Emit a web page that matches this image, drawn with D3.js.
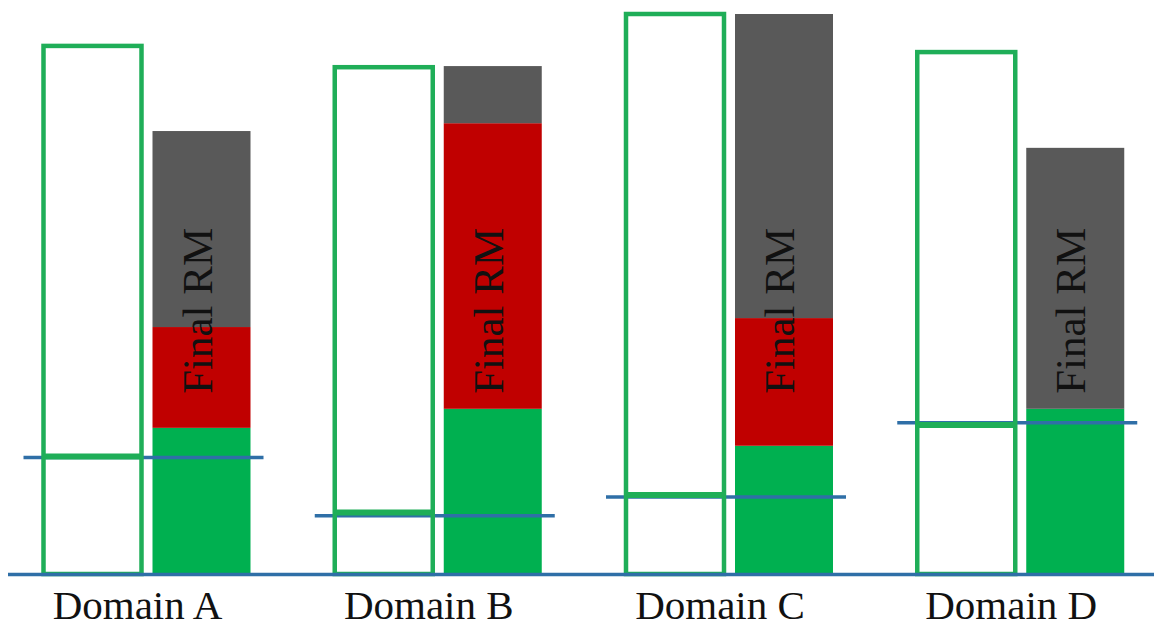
<!DOCTYPE html>
<html><head><meta charset="utf-8">
<script src="https://cdn.jsdelivr.net/npm/d3@7"></script>
<style>html,body{margin:0;padding:0;background:#fff;}svg{display:block;}</style>
</head><body>
<svg id="chart" width="1154" height="628"></svg>
<script>
// Data (arbitrary units, baseline = 0)
const domains = ["Domain A", "Domain B", "Domain C", "Domain D"];
const outlineTotals = [94.3, 90.5, 100, 93.2];
const greenSeg = [26.1, 29.5, 22.9, 29.5];
const redSeg   = [18.0, 51.0, 22.8, 0];
const graySeg  = [35.0, 10.2, 54.3, 46.6];
const thresholds = [20.8, 10.4, 13.75, 27.0];
const outlineMarks = [21.0, 11.0, 14.1, 26.6];
const barLabel = "Final RM";

const svg = d3.select("#chart");
const y = d3.scaleLinear().domain([0, 100]).range([574, 14]);
const x = d3.scaleBand().domain(domains).range([43.5, 1208.5]).paddingInner(0).paddingOuter(0);
const boxW = 98, barOff = 109;
const serif = "'Liberation Serif', 'Times New Roman', Times, serif";

const colors = {green: "#00b050", red: "#c00000", gray: "#595959", outline: "#1fae58", blue: "#2f6fa7"};

const rows = domains.map((d, i) => ({
  d, total: outlineTotals[i], g: greenSeg[i], r: redSeg[i], k: graySeg[i], t: thresholds[i], m: outlineMarks[i]
}));

const stack = d3.stack().keys(["g", "r", "k"])(rows);
const segColor = {g: colors.green, r: colors.red, k: colors.gray};

// stacked bars
svg.append("g").selectAll("g").data(stack).join("g")
  .attr("fill", s => segColor[s.key])
  .selectAll("rect").data(s => s).join("rect")
  .attr("x", p => x(p.data.d) + barOff)
  .attr("width", boxW)
  .attr("y", p => y(p[1]))
  .attr("height", p => y(p[0]) - y(p[1]));

// blue threshold lines
svg.append("g").selectAll("line").data(rows).join("line")
  .attr("x1", r => x(r.d) - 20).attr("x2", r => x(r.d) + 220)
  .attr("y1", r => y(r.t)).attr("y2", r => y(r.t))
  .attr("stroke", colors.blue).attr("stroke-width", 3.5);

// outline boxes
svg.append("g").selectAll("rect").data(rows).join("rect")
  .attr("x", r => x(r.d)).attr("width", boxW)
  .attr("y", r => y(r.total)).attr("height", r => y(0) - y(r.total))
  .attr("fill", "none").attr("stroke", colors.outline).attr("stroke-width", 4.5);

// green marks inside outline boxes
svg.append("g").selectAll("line").data(rows).join("line")
  .attr("x1", r => x(r.d)).attr("x2", r => x(r.d) + boxW)
  .attr("y1", r => y(r.m)).attr("y2", r => y(r.m))
  .attr("stroke", colors.outline).attr("stroke-width", 6);

// baseline
svg.append("line").attr("x1", 8).attr("x2", 1154).attr("y1", y(0) + 0.5).attr("y2", y(0) + 0.5)
  .attr("stroke", colors.blue).attr("stroke-width", 3.5);

// rotated labels
svg.append("g").selectAll("text").data(rows).join("text")
  .attr("transform", r => `translate(${x(r.d) + barOff + boxW / 2 + 10},${y(47)}) rotate(-90)`)
  .attr("text-anchor", "middle")
  .style("font-family", serif)
  .attr("font-size", 43)
  .attr("fill", "#111")
  .text(barLabel);

// domain labels
svg.append("g").selectAll("text").data(rows).join("text")
  .attr("x", r => x(r.d) + 94)
  .attr("y", 619)
  .attr("text-anchor", "middle")
  .style("font-family", serif)
  .attr("font-size", 41)
  .attr("fill", "#111")
  .text(r => r.d);
</script>
</body></html>
